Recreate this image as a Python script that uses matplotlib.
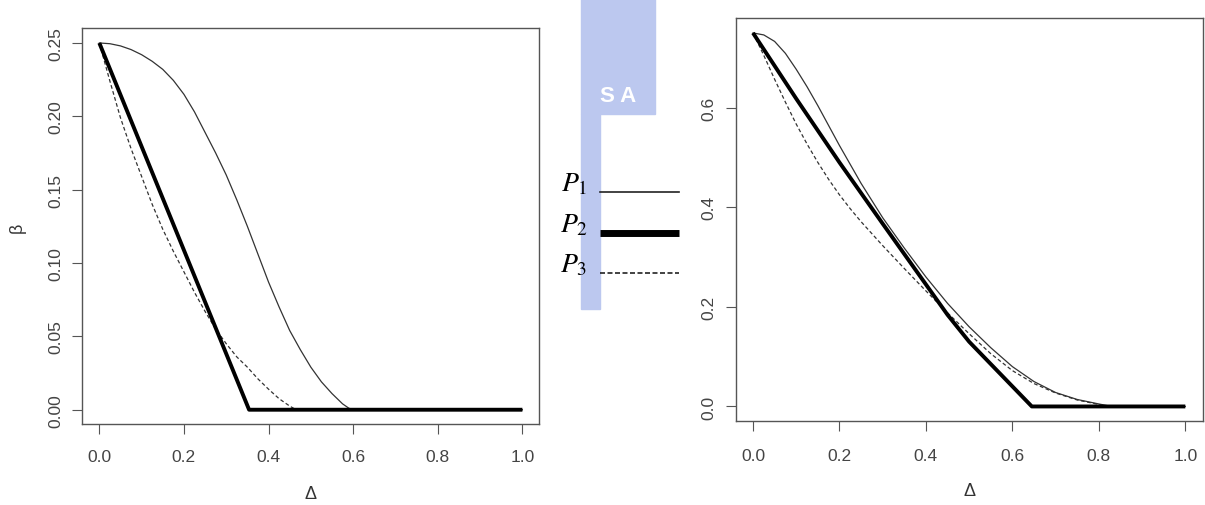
import matplotlib.pyplot as plt
from matplotlib.patches import Rectangle
from matplotlib.lines import Line2D

plt.rcParams['font.family'] = ['Liberation Sans', 'DejaVu Sans']

# left panel: beta vs delta
x1_left = [0, 0.025, 0.05, 0.075, 0.1, 0.125, 0.15, 0.175, 0.2, 0.225, 0.25, 0.275, 0.3,
           0.325, 0.35, 0.375, 0.4, 0.425, 0.45, 0.475, 0.5, 0.525, 0.55, 0.575, 0.59, 0.6, 1.0]
p1_left = [0.25, 0.2495, 0.248, 0.2455, 0.242, 0.2375, 0.232, 0.2245, 0.215, 0.203, 0.189,
           0.175, 0.160, 0.143, 0.125, 0.106, 0.087, 0.070, 0.054, 0.041, 0.029, 0.019,
           0.011, 0.004, 0.001, 0.0, 0.0]
x2_left = [0, 0.354, 1.0]
p2_left = [0.25, 0.0, 0.0]
x3_left = [0, 0.025, 0.05, 0.075, 0.1, 0.125, 0.15, 0.175, 0.2, 0.225, 0.25, 0.275, 0.3,
           0.325, 0.35, 0.375, 0.4, 0.425, 0.45, 0.465, 1.0]
p3_left = [0.25, 0.224, 0.199, 0.178, 0.159, 0.140, 0.123, 0.108, 0.094, 0.080, 0.067,
           0.055, 0.045, 0.036, 0.029, 0.021, 0.014, 0.0075, 0.0025, 0.0, 0.0]

# right panel
x1_right = [0, 0.025, 0.05, 0.075, 0.1, 0.125, 0.15, 0.175, 0.2, 0.25, 0.3, 0.35, 0.4, 0.45,
            0.5, 0.55, 0.6, 0.65, 0.7, 0.75, 0.8, 0.83, 1.0]
p1_right = [0.75, 0.746, 0.733, 0.709, 0.677, 0.642, 0.604, 0.564, 0.524, 0.448, 0.379,
            0.318, 0.260, 0.207, 0.160, 0.118, 0.080, 0.050, 0.028, 0.014, 0.005, 0.0, 0.0]
x2_right = [0, 0.1, 0.2, 0.3, 0.4, 0.45, 0.5, 0.645, 1.0]
p2_right = [0.75, 0.618, 0.49, 0.367, 0.245, 0.184, 0.130, 0.0, 0.0]
x3_right = [0, 0.025, 0.05, 0.075, 0.1, 0.125, 0.15, 0.175, 0.2, 0.225, 0.25, 0.3, 0.35,
            0.4, 0.45, 0.5, 0.55, 0.6, 0.65, 0.7, 0.75, 0.8, 0.82, 1.0]
p3_right = [0.75, 0.705, 0.657, 0.611, 0.567, 0.527, 0.490, 0.456, 0.425, 0.397, 0.371,
            0.323, 0.277, 0.232, 0.188, 0.146, 0.106, 0.072, 0.046, 0.027, 0.013, 0.004,
            0.0, 0.0]

xticks = [0.0, 0.2, 0.4, 0.6, 0.8, 1.0]
yticks_left = [0.00, 0.05, 0.10, 0.15, 0.20, 0.25]
yticks_right = [0.0, 0.2, 0.4, 0.6]

W, H = 1205, 506
fig = plt.figure(figsize=(W / 100, H / 100), dpi=100)

thin = dict(color='#333333', lw=0.9)
thick = dict(color='black', lw=2.8, solid_capstyle='butt')
dash = dict(color='#333333', lw=0.9, dashes=(3, 2))


def r_style(ax, yticks, yfmt, xpad, labelpad):
    for s in ax.spines.values():
        s.set_color('#555555')
        s.set_linewidth(1.0)
    ax.set_xticks(xticks)
    ax.set_xticklabels([f'{t:.1f}' for t in xticks])
    ax.set_yticks(yticks)
    ax.set_yticklabels([yfmt.format(t) for t in yticks], rotation=90, va='center')
    ax.tick_params(direction='out', length=7, width=0.8, color='#555555',
                   labelsize=12.5, labelcolor='#444444')
    ax.tick_params(axis='x', pad=xpad)
    ax.tick_params(axis='y', pad=7)
    ax.set_xlabel('Δ', fontsize=13, color='#333333', labelpad=labelpad)


ax1 = fig.add_axes([82.4 / W, (H - 425.4) / H, 456.9 / W, 396.1 / H])
ax1.plot(x1_left, p1_left, **thin)
ax1.plot(x3_left, p3_left, **dash)
ax1.plot(x2_left, p2_left, **thick)
ax1.set_xlim(-0.04, 1.04)
ax1.set_ylim(-0.01, 0.26)
r_style(ax1, yticks_left, '{:.2f}', 11, 15)
ax1.set_ylabel('β', fontsize=13, color='#333333', labelpad=16)

ax2 = fig.add_axes([735.7 / W, (H - 422.4) / H, 466.9 / W, 403.4 / H])
ax2.plot(x1_right, p1_right, **thin)
ax2.plot(x3_right, p3_right, **dash)
ax2.plot(x2_right, p2_right, **thick)
ax2.set_xlim(-0.04, 1.04)
ax2.set_ylim(-0.03, 0.78)
r_style(ax2, yticks_right, '{:.1f}', 12, 14)

# watermark remnant in the middle
wm = '#bcc8ef'
fig.patches.append(Rectangle((581 / W, 1 - 115 / H), 74 / W, 115 / H,
                             transform=fig.transFigure, color=wm, zorder=0))
fig.patches.append(Rectangle((581 / W, 1 - 310 / H), 19 / W, 195 / H,
                             transform=fig.transFigure, color=wm, zorder=0))
fig.text(618 / W, 1 - 97 / H, 'S A', color='white', fontsize=16, fontweight='bold',
         ha='center', va='center')

# legend
labels = ['1', '2', '3']
ys = [193, 234, 274]
styles = [dict(color='#222222', lw=1.2),
          dict(color='black', lw=5, solid_capstyle='butt'),
          dict(color='#222222', lw=1.2, dashes=(3, 1.5))]
for lab, y, st in zip(labels, ys, styles):
    fig.text(574 / W, 1 - (y - 8) / H, f'$P_{lab}$', fontsize=20,
             ha='center', va='center', family='Liberation Serif',
             math_fontfamily='stix')
    fig.add_artist(Line2D([600 / W, 679 / W], [1 - y / H, 1 - y / H],
                          transform=fig.transFigure, **st))

fig.savefig('out.png', dpi=100)
